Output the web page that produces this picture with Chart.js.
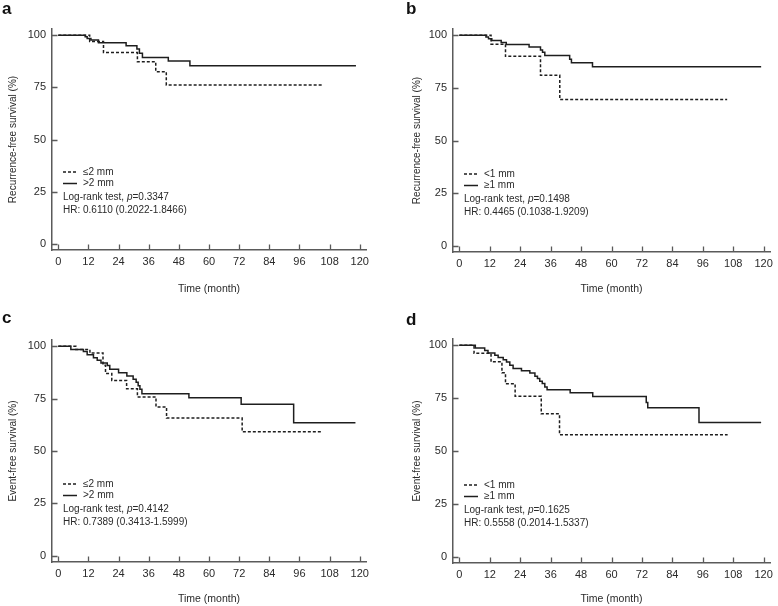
<!DOCTYPE html>
<html>
<head>
<meta charset="utf-8">
<script src="https://cdn.jsdelivr.net/npm/chart.js@4/dist/chart.umd.min.js"></script>
<style>
html, body { margin: 0; padding: 0; background: #fff; }
#wrap { position: relative; width: 778px; height: 606px; overflow: hidden; }
.panel { position: absolute; }
</style>
</head>
<body>
<div id="wrap"></div>
<script>
// axis ticks
const xTicks = [0, 12, 24, 36, 48, 60, 72, 84, 96, 108, 120];
const yTicks = [0, 25, 50, 75, 100];

// panel a : recurrence-free survival, 2 mm cut-off
const aDashT  = [0, 12.5, 18, 31.5, 38.8, 43, 105.3];
const aDashS  = [100, 97, 91.7, 87.3, 82.5, 76.2, 76.2];
const aSolidT = [0, 10.7, 11.5, 13, 16, 27, 31.3, 32.3, 33.5, 43.8, 52.4, 118.5];
const aSolidS = [100, 99.3, 98.5, 97.7, 96.4, 95, 93.4, 91.4, 89.3, 87.6, 85.4, 85.4];

// panel b : recurrence-free survival, 1 mm cut-off
const bDashT  = [0, 12.5, 18.2, 32, 39.6, 105.6];
const bDashS  = [100, 95.8, 90, 81, 69.5, 69.5];
const bSolidT = [0, 10.5, 11.5, 12.8, 16.5, 18.5, 27.5, 32, 32.8, 33.7, 43.5, 44.2, 52.5, 119];
const bSolidS = [100, 99.2, 98.4, 97.5, 96.6, 95.6, 94.4, 93, 92, 90.4, 88.6, 86.9, 85, 85];

// panel c : event-free survival, 2 mm cut-off
const cDashT  = [0, 7, 12.6, 17.8, 18.8, 21.3, 27.2, 31.5, 38.9, 43.1, 73.2, 105];
const cDashS  = [100, 98.5, 96.8, 91, 87, 83.7, 79.7, 75.8, 71, 65.7, 59.2, 59.2];
const cSolidT = [0, 5, 10, 11.5, 14, 15.5, 17, 19.5, 20.5, 24, 27.3, 29.8, 31, 31.8, 32.5, 33.3, 52, 72.8, 93.7, 118.3];
const cSolidS = [100, 98.5, 97.5, 96, 94.5, 93.3, 92, 90.8, 89, 87.4, 85.8, 84.3, 82.8, 81.2, 79.5, 77.3, 75.4, 72.3, 63.5, 63.5];

// panel d : event-free survival, 1 mm cut-off
const dDashT  = [0, 5.8, 12.5, 16.8, 18.2, 22, 32.3, 39.5, 105.8];
const dDashS  = [100, 96.2, 92.2, 87, 81.8, 75.9, 67.6, 57.7, 57.7];
const dSolidT = [0, 6.3, 10, 11.3, 14, 15.3, 17.3, 18.6, 19.9, 21.2, 24.5, 27.8, 29.8, 30.8, 31.7, 32.7, 33.7, 34.6, 43.7, 52.6, 73.7, 74.3, 94.5, 119];
const dSolidS = [100, 98.8, 97.6, 96.4, 95.3, 94.3, 93.2, 92.1, 90.6, 89, 88, 86.9, 85.4, 84.3, 83, 81.9, 80.3, 79, 77.6, 75.8, 73, 70.5, 63.5, 63.5];

// texts
const panelLetters = ["a", "b", "c", "d"];
const yTitles = ["Recurrence-free survival (%)", "Recurrence-free survival (%)", "Event-free survival (%)", "Event-free survival (%)"];
const xTitle = "Time (month)";
const groupLabels2 = ["\u22642 mm", ">2 mm"];
const groupLabels1 = ["<1 mm", "\u22651 mm"];
const pValues = ["0.3347", "0.1498", "0.4142", "0.1625"];
const hrTexts = ["0.6110 (0.2022-1.8466)", "0.4465 (0.1038-1.9209)", "0.7389 (0.3413-1.5999)", "0.5558 (0.2014-1.5337)"];

const FONT = "'Liberation Sans', Arial, sans-serif";
const INK = "#1e1e1e";
const AXIS = "#5a5a5a";
const TXT = "#2a2a2a";

function pts(t, s) { return t.map((v, i) => ({x: v, y: s[i]})); }

// inward ticks, panel letter, legend and test results
const kmDecor = {
    id: "kmDecor",
    afterDraw(chart, args, o)
    {
        const ctx = chart.ctx, ca = chart.chartArea;
        const xs = chart.scales.x, ys = chart.scales.y;
        ctx.save();

        ctx.strokeStyle = AXIS;
        ctx.lineWidth = 1.3;
        ctx.beginPath();
        xs.ticks.forEach(t => {
            const px = Math.round(xs.getPixelForValue(t.value)) + 0.5;
            ctx.moveTo(px, ca.bottom); ctx.lineTo(px, ca.bottom - 5.5);
        });
        ys.ticks.forEach(t => {
            const py = Math.round(ys.getPixelForValue(t.value)) + 0.5;
            ctx.moveTo(ca.left, py); ctx.lineTo(ca.left + 5.5, py);
        });
        ctx.stroke();

        ctx.fillStyle = "#111";
        ctx.font = "bold 17px " + FONT;
        ctx.textAlign = "left";
        ctx.textBaseline = "alphabetic";
        ctx.fillText(o.letter, o.lx, o.ly);

        ctx.fillStyle = TXT;
        ctx.font = "10px " + FONT;
        ctx.textBaseline = "middle";
        const rows = [ca.bottom - 78, ca.bottom - 66.5];
        const dashes = [[3, 2], []];
        ctx.strokeStyle = INK;
        ctx.lineWidth = 1.5;
        for (let i = 0; i < 2; i++)
        {
            ctx.setLineDash(dashes[i]);
            ctx.beginPath();
            ctx.moveTo(ca.left + 11, rows[i]);
            ctx.lineTo(ca.left + 25, rows[i]);
            ctx.stroke();
            ctx.fillText(o.labels[i], ca.left + 31, rows[i]);
        }
        ctx.setLineDash([]);

        let x = ca.left + 11;
        const y1 = ca.bottom - 52.5;
        ctx.fillText("Log-rank test, ", x, y1);
        x += ctx.measureText("Log-rank test, ").width;
        ctx.font = "italic 10px " + FONT;
        ctx.fillText("p", x, y1);
        x += ctx.measureText("p").width;
        ctx.font = "10px " + FONT;
        ctx.fillText("=" + o.p, x, y1);
        ctx.fillText("HR: " + o.hr, ca.left + 11, ca.bottom - 40);
        ctx.restore();
    }
};

function drawPanel(i, box, dashT, dashS, solidT, solidS, labels)
{
    const div = document.createElement("div");
    div.className = "panel";
    div.style.left = box.left + "px";
    div.style.top = box.top + "px";
    div.style.width = box.w + "px";
    div.style.height = box.h + "px";
    const cv = document.createElement("canvas");
    div.appendChild(cv);
    document.getElementById("wrap").appendChild(div);

    new Chart(cv.getContext("2d"),
    {
        type: "line",
        data:
        {
            datasets:
            [{
                data: pts(dashT, dashS),
                stepped: true,
                borderColor: INK,
                borderWidth: 1.5,
                borderDash: [3, 2],
                pointRadius: 0,
                fill: false
            },
            {
                data: pts(solidT, solidS),
                stepped: true,
                borderColor: INK,
                borderWidth: 1.5,
                pointRadius: 0,
                fill: false
            }]
        },
        options:
        {
            responsive: true,
            maintainAspectRatio: false,
            animation: false,
            events: [],
            layout: { padding: { top: box.padTop, right: box.padRight, left: 0, bottom: 0 } },
            scales:
            {
                x:
                {
                    type: "linear",
                    min: -2.5,
                    max: 122.5,
                    afterBuildTicks: s => { s.ticks = xTicks.map(v => ({value: v})); },
                    afterFit: s => { s.height = box.xH; },
                    grid: { display: false, drawTicks: false },
                    border: { display: true, color: AXIS, width: 1.5 },
                    ticks: { color: TXT, font: { family: FONT, size: 11 }, padding: 5, maxRotation: 0, autoSkip: false },
                    title: { display: true, text: xTitle, color: TXT, font: { family: FONT, size: 10.5 }, padding: { top: 0, bottom: box.xTitlePad } }
                },
                y:
                {
                    type: "linear",
                    min: -3,
                    max: 103,
                    afterBuildTicks: s => { s.ticks = yTicks.map(v => ({value: v})); },
                    afterFit: s => { s.width = box.yW; },
                    grid: { display: false, drawTicks: false },
                    border: { display: true, color: AXIS, width: 1.5 },
                    ticks: { color: TXT, font: { family: FONT, size: 11 }, padding: 6 },
                    title: { display: true, text: yTitles[i], color: TXT, font: { family: FONT, size: 10 }, padding: { top: box.yTitlePad, bottom: 0 } }
                }
            },
            plugins:
            {
                legend: { display: false },
                tooltip: { enabled: false },
                kmDecor: { letter: panelLetters[i], lx: box.lx, ly: box.ly, labels: labels, p: pValues[i], hr: hrTexts[i] }
            }
        },
        plugins: [kmDecor]
    });
}

drawPanel(0, {left: 0,   top: 0,   w: 389, h: 300, padTop: 29, padRight: 23, yW: 52, xH: 50, yTitlePad: 7,  xTitlePad: 4.7, lx: 2,  ly: 14},
          aDashT, aDashS, aSolidT, aSolidS, groupLabels2);
drawPanel(1, {left: 389, top: 0,   w: 389, h: 300, padTop: 29, padRight: 7,  yW: 64, xH: 48, yTitlePad: 22, xTitlePad: 4.7, lx: 17, ly: 14},
          bDashT, bDashS, bSolidT, bSolidS, groupLabels1);
drawPanel(2, {left: 0,   top: 300, w: 389, h: 306, padTop: 40, padRight: 23, yW: 52, xH: 44, yTitlePad: 7,  xTitlePad: 0.7, lx: 2,  ly: 23},
          cDashT, cDashS, cSolidT, cSolidS, groupLabels2);
drawPanel(3, {left: 389, top: 300, w: 389, h: 306, padTop: 39, padRight: 8,  yW: 64, xH: 43, yTitlePad: 22, xTitlePad: 0.7, lx: 17, ly: 25},
          dDashT, dDashS, dSolidT, dSolidS, groupLabels1);
</script>
</body>
</html>
